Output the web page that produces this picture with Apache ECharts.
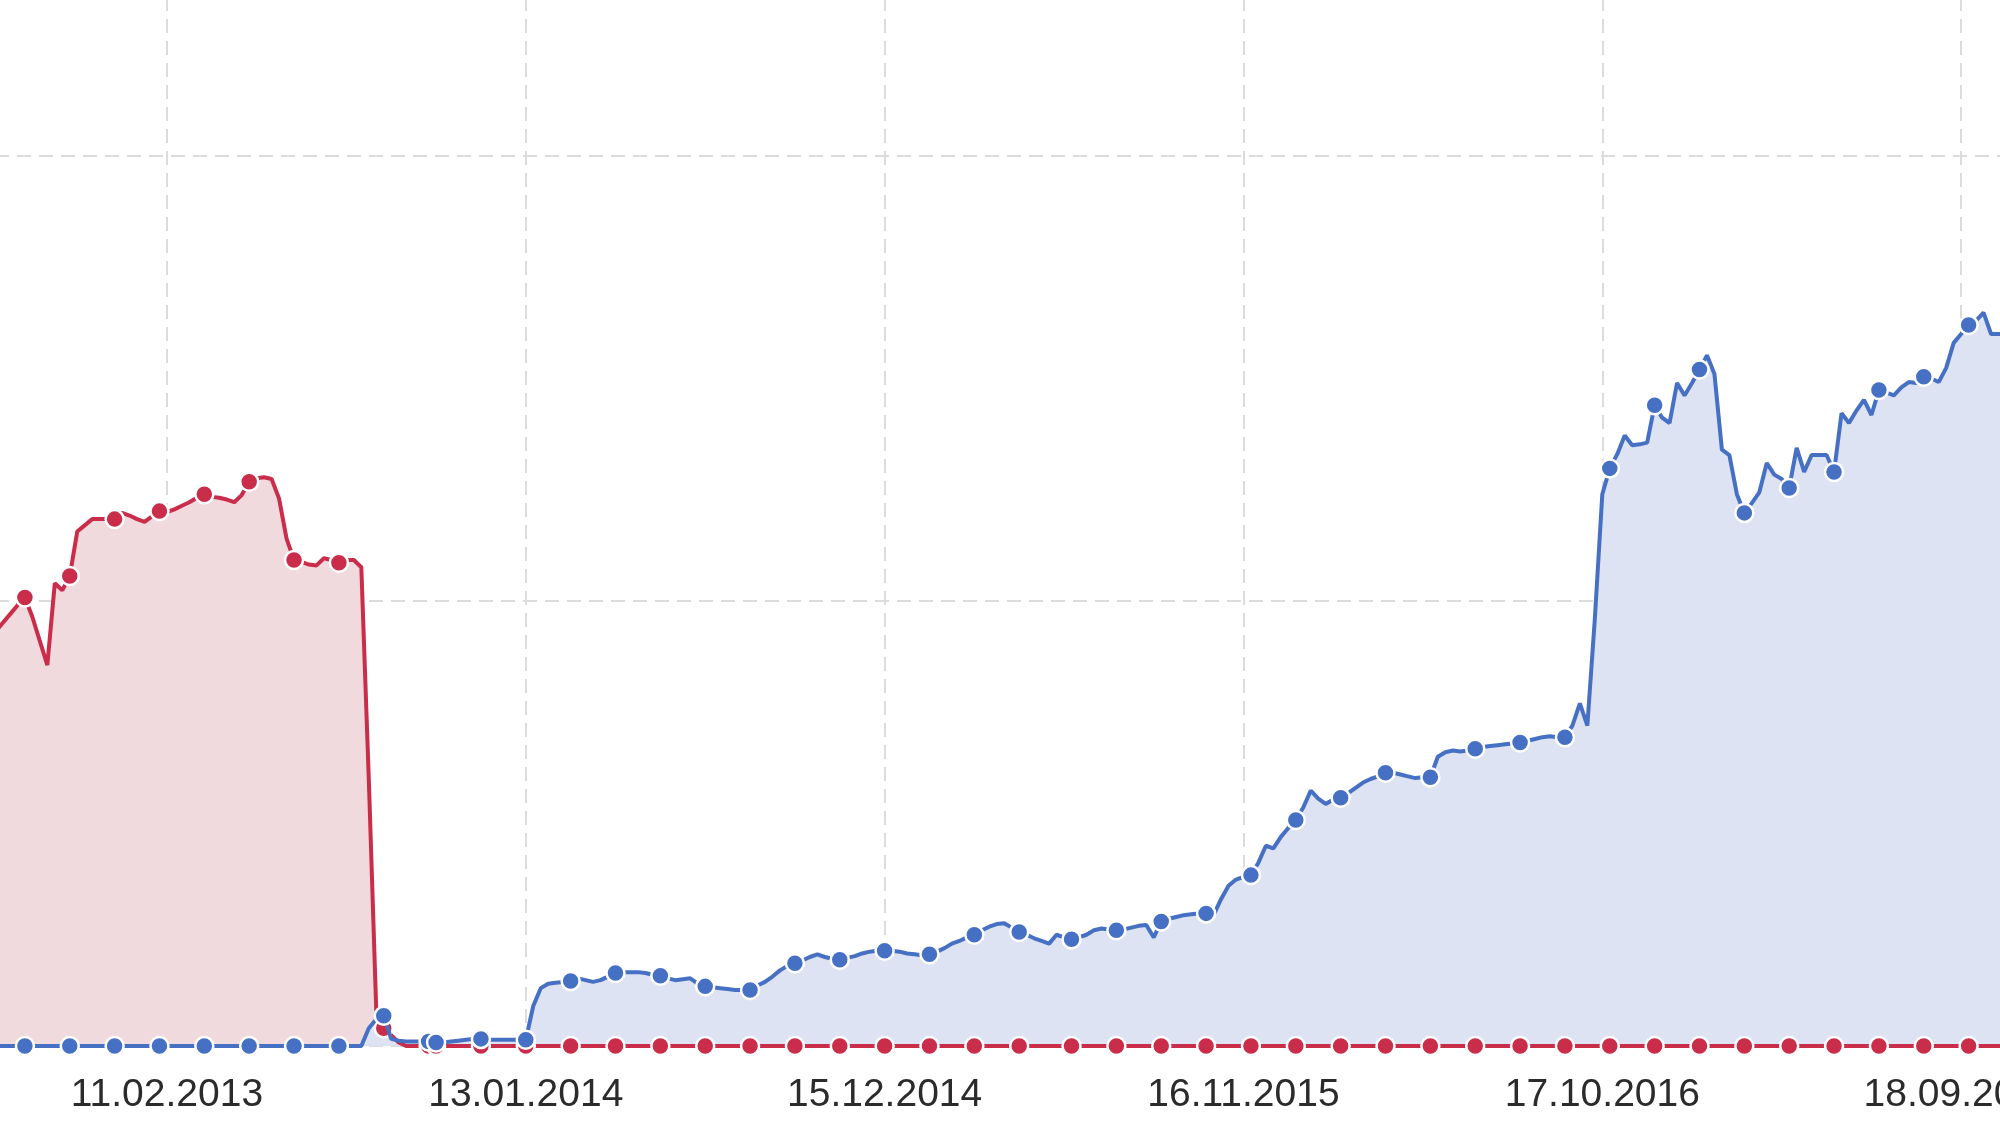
<!DOCTYPE html>
<html>
<head>
<meta charset="utf-8">
<script src="https://cdn.jsdelivr.net/npm/echarts@6/dist/echarts.min.js"></script>
<style>
html,body{margin:0;padding:0;background:#fff;}
#chart{width:2000px;height:1125px;}
</style>
</head>
<body>
<div id="chart"></div>
<script>
// Weekly series, first week starts Monday 03.09.2012
const startWeek = '2012-09-03';
const weekCount = 270;
const labelDates = ['11.02.2013','13.01.2014','15.12.2014','16.11.2015','17.10.2016','18.09.2017'];

const redValues = [
0.465,0.475,0.485,0.495,0.504,0.482,0.455,0.428,0.520,0.512,
0.528,0.578,0.585,0.592,0.592,0.592,0.592,0.599,0.596,0.592,
0.589,0.595,0.601,0.600,0.603,0.607,0.611,0.616,0.620,0.617,
0.616,0.614,0.611,0.619,0.634,0.638,0.639,0.637,0.615,0.570,
0.546,0.544,0.541,0.540,0.548,0.546,0.543,0.546,0.546,0.538,
0.300,0.040,0.020,0.012,0.004,0,0,0,0,0,
0,0,0,0,0,0,0,0,0,0,
0,0,0,0,0,0,0,0,0,0,
0,0,0,0,0,0,0,0,0,0,
0,0,0,0,0,0,0,0,0,0,
0,0,0,0,0,0,0,0,0,0,
0,0,0,0,0,0,0,0,0,0,
0,0,0,0,0,0,0,0,0,0,
0,0,0,0,0,0,0,0,0,0,
0,0,0,0,0,0,0,0,0,0,
0,0,0,0,0,0,0,0,0,0,
0,0,0,0,0,0,0,0,0,0,
0,0,0,0,0,0,0,0,0,0,
0,0,0,0,0,0,0,0,0,0,
0,0,0,0,0,0,0,0,0,0,
0,0,0,0,0,0,0,0,0,0,
0,0,0,0,0,0,0,0,0,0,
0,0,0,0,0,0,0,0,0,0,
0,0,0,0,0,0,0,0,0,0,
0,0,0,0,0,0,0,0,0,0,
0,0,0,0,0,0,0,0,0,0,
0,0,0,0,0,0,0,0,0,0
];

const blueValues = [
0,0,0,0,0,0,0,0,0,0,
0,0,0,0,0,0,0,0,0,0,
0,0,0,0,0,0,0,0,0,0,
0,0,0,0,0,0,0,0,0,0,
0,0,0,0,0,0,0,0,0,0,
0.020,0.030,0.034,0.008,0.006,0.005,0.005,0.005,0.005,0.004,
0.004,0.005,0.006,0.007,0.008,0.008,0.007,0.007,0.007,0.007,
0.007,0.007,0.045,0.065,0.070,0.071,0.072,0.073,0.076,0.074,
0.072,0.074,0.078,0.082,0.083,0.083,0.083,0.082,0.080,0.079,
0.076,0.074,0.075,0.076,0.070,0.067,0.066,0.065,0.064,0.063,
0.063,0.063,0.068,0.072,0.078,0.085,0.090,0.093,0.096,0.100,
0.103,0.100,0.098,0.097,0.099,0.101,0.104,0.106,0.107,0.107,
0.107,0.106,0.104,0.103,0.102,0.103,0.106,0.110,0.115,0.118,
0.122,0.125,0.130,0.134,0.137,0.138,0.133,0.128,0.125,0.121,
0.118,0.115,0.125,0.122,0.120,0.122,0.125,0.130,0.132,0.131,
0.130,0.131,0.133,0.135,0.136,0.122,0.140,0.143,0.145,0.147,
0.148,0.149,0.149,0.147,0.165,0.180,0.187,0.190,0.192,0.206,
0.225,0.222,0.235,0.245,0.254,0.268,0.287,0.278,0.272,0.277,
0.279,0.284,0.290,0.296,0.300,0.303,0.307,0.307,0.305,0.303,
0.301,0.302,0.302,0.325,0.330,0.332,0.331,0.332,0.334,0.336,
0.337,0.338,0.339,0.340,0.341,0.343,0.345,0.347,0.348,0.347,
0.347,0.360,0.385,0.360,0.480,0.620,0.649,0.665,0.686,0.675,
0.676,0.678,0.720,0.706,0.700,0.745,0.731,0.745,0.760,0.776,
0.755,0.670,0.664,0.620,0.599,0.610,0.622,0.655,0.642,0.637,
0.627,0.672,0.645,0.664,0.664,0.664,0.645,0.711,0.700,0.714,
0.726,0.709,0.737,0.734,0.731,0.740,0.746,0.745,0.752,0.750,
0.746,0.762,0.790,0.800,0.810,0.815,0.824,0.800,0.800,0.800
];

// build weekly category labels dd.mm.yyyy
function pad(n){return (n<10?'0':'')+n;}
const categories = [];
(function(){
  const p = startWeek.split('-').map(Number);
  const t0 = Date.UTC(p[0], p[1]-1, p[2]);
  for (let i = 0; i < weekCount; i++) {
    const d = new Date(t0 + i*7*86400000);
    categories.push(pad(d.getUTCDate())+'.'+pad(d.getUTCMonth()+1)+'.'+d.getUTCFullYear());
  }
})();
const labelSet = new Set(labelDates);
function isLabel(idx){ return labelSet.has(categories[idx]); }
// marker weeks (every 6th sample, phase as in the source)
function isDot(i){
  if (i <= 58) return i % 6 === 4;
  if (i <= 140) return i % 6 === 5;
  return i % 6 === 0;
}

const RED = '#c92d4a', BLUE = '#4670c4';
const RED_FILL = '#f1dade', BLUE_FILL = '#dde3f2';

const chart = echarts.init(document.getElementById('chart'), null, {renderer:'canvas'});
const lineSeries = (name, data, color, z) => ({
  name, type:'line', data, z,
  symbol:'circle', showSymbol:true, showAllSymbol:true,
  symbolSize: (v, p) => isDot(p.dataIndex) ? 18 : 0,
  itemStyle:{color, borderColor:'#fff', borderWidth:2.5},
  lineStyle:{color, width:4},
  emphasis:{disabled:true},
  animation:false
});
const areaSeries = (name, data, fill) => ({
  name, type:'line', data, z:1,
  symbol:'none', lineStyle:{width:0},
  areaStyle:{color:fill, opacity:1},
  emphasis:{disabled:true},
  animation:false
});

chart.setOption({
  animation:false,
  backgroundColor:'#ffffff',
  grid:{left:-5, right:-6, top:-289, bottom:79, containLabel:false, outerBoundsMode:'none'},
  xAxis:{
    type:'category', data:categories, boundaryGap:false,
    axisLine:{show:false}, axisTick:{show:false},
    axisLabel:{
      interval:(idx)=>isLabel(idx), margin:30,
      color:'#2b2b2b', fontSize:39, fontFamily:'"Liberation Sans", Arial, sans-serif'
    },
    splitLine:{show:true, interval:(idx)=>isLabel(idx),
      lineStyle:{color:'#dcdcdc', width:2, type:[14,8]}}
  },
  yAxis:{
    type:'value', min:0, max:1.5, interval:0.5,
    axisLine:{show:false}, axisTick:{show:false}, axisLabel:{show:false},
    splitLine:{show:true, lineStyle:{color:'#dcdcdc', width:2, type:[14,8]}}
  },
  series:[
    areaSeries('red-area', redValues, RED_FILL),
    areaSeries('blue-area', blueValues, BLUE_FILL),
    lineSeries('red', redValues, RED, 3),
    lineSeries('blue', blueValues, BLUE, 4)
  ]
});
</script>
</body>
</html>
